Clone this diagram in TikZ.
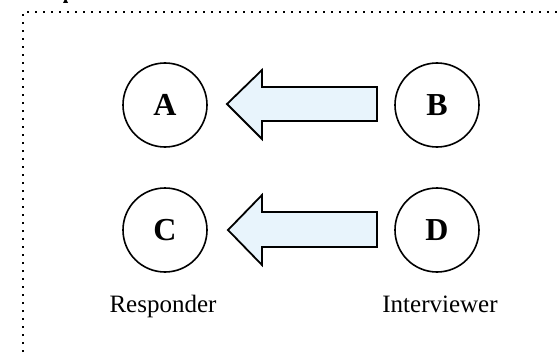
\documentclass[tikz,border=0pt]{standalone}
\usepackage{fontspec}
\setmainfont{Liberation Serif}
\definecolor{arrowfill}{HTML}{E8F4FC}
\begin{document}
\begin{tikzpicture}[x=1pt,y=-1pt,
  party/.style={circle,draw=black,line width=1.6pt,minimum size=84pt,inner sep=0pt,
                font=\fontsize{32}{32}\selectfont\bfseries},
  role/.style={font=\fontsize{25}{25}\selectfont,inner sep=0pt},
  fatarrow/.style={draw=black,fill=arrowfill,line width=1.8pt,line join=miter},
  frame/.style={line width=2pt,dash pattern=on 2pt off 6pt}]
\useasboundingbox (0,0) rectangle (560,353);
\clip (0,0) rectangle (560,353);

% cut-off glyph above the frame
\fill (63,3) -- (64.5,0) -- (66.5,0) -- (68,3) -- cycle;

% dotted frame running off the page
\draw[frame] (23,360) -- (23,12) -- (570,12);

% the four parties
\node[party] (A) at (165,105) {A};
\node[party] (B) at (437,105) {B};
\node[party] (C) at (165,230) {C};
\node[party] (D) at (437,230) {D};

% block arrows from the interviewer side to the responder side
\draw[fatarrow] (227,104) -- (262,70) -- (262,87) -- (377,87) -- (377,121)
                -- (262,121) -- (262,139) -- cycle;
\draw[fatarrow] (228,230) -- (262,195) -- (262,212) -- (377,212) -- (377,247)
                -- (262,247) -- (262,265) -- cycle;

% role captions
\node[role,anchor=base] (resp) at (163,312) {Responder};
\node[role,anchor=base] (intv) at (440,312) {Interviewer};
\end{tikzpicture}
\end{document}
